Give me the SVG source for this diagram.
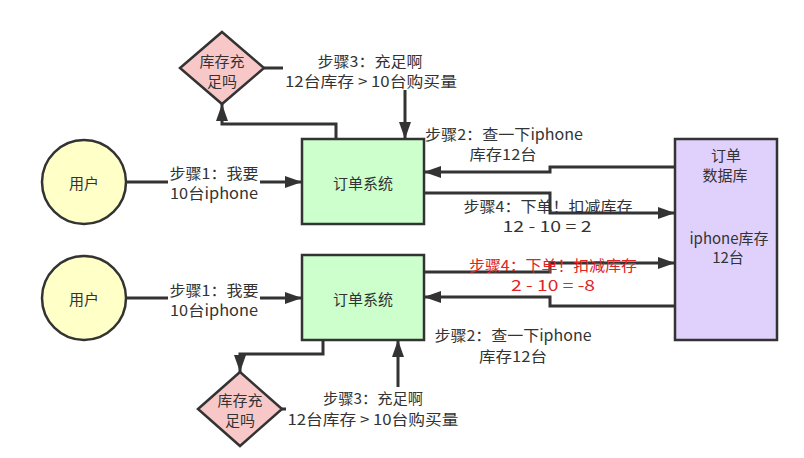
<svg xmlns="http://www.w3.org/2000/svg" width="804" height="458" viewBox="0 0 804 458">
<defs>
<marker id="ah" markerUnits="userSpaceOnUse" markerWidth="18" markerHeight="14" refX="17" refY="7" orient="auto">
<path d="M0,1 L17,7 L0,13 z" fill="#333"/>
</marker>
<style>
.t{font-family:"Noto Sans CJK SC","Liberation Sans",sans-serif;font-size:15px;fill:#333;text-anchor:middle;dominant-baseline:central}
.r{fill:#e02424}
.c{fill:none;stroke:#333;stroke-width:3}
.user{fill:#ffffc8;stroke:#333;stroke-width:2.5}
.sys{fill:#ccffcc;stroke:#333;stroke-width:2.5}
.dia{fill:#f8c8c8;stroke:#333;stroke-width:2.5}
.db{fill:#e0d0fc;stroke:#333;stroke-width:2.5}
</style>
</defs>
<rect width="804" height="458" fill="#fff"/>
<g id="connectors">
<path class="c" d="M127,182 H302" marker-end="url(#ah)"/>
<path class="c" d="M264,68 H405 V139" marker-end="url(#ah)"/>
<path class="c" d="M336,139 V124 H222 V104" stroke="#555" marker-end="url(#ah)"/>
<path class="c" d="M675,167 H550 V172 H424" marker-end="url(#ah)"/>
<path class="c" d="M424,193 H550 V213 H675" marker-end="url(#ah)"/>
<path class="c" d="M127,298 H302" marker-end="url(#ah)"/>
<path class="c" d="M323,340 V354 H240 V372" marker-end="url(#ah)"/>
<path class="c" d="M282,409 H398 V340" marker-end="url(#ah)"/>
<path class="c" d="M424,272 H550 V263 H675" marker-end="url(#ah)"/>
<path class="c" d="M675,306 H550 V297 H424" marker-end="url(#ah)"/>
<rect x="168" y="162" width="92" height="40" fill="#fff"/>
<rect x="283" y="49" width="176" height="41" fill="#fff"/>
<rect x="168" y="278" width="92" height="41" fill="#fff"/>
<rect x="286" y="387" width="176" height="41" fill="#fff"/>
<text class="t" x="214" y="172" textLength="89" lengthAdjust="spacingAndGlyphs">步骤1：我要</text>
<text class="t" x="214" y="192" textLength="88" lengthAdjust="spacingAndGlyphs">10台iphone</text>
<text class="t" x="370" y="60" textLength="105" lengthAdjust="spacingAndGlyphs">步骤3：充足啊</text>
<text class="t" x="371" y="80" textLength="172" lengthAdjust="spacingAndGlyphs">12台库存 &gt; 10台购买量</text>
<text class="t" x="504" y="133" textLength="158" lengthAdjust="spacingAndGlyphs">步骤2：查一下iphone</text>
<text class="t" x="503" y="153" textLength="67" lengthAdjust="spacingAndGlyphs">库存12台</text>
<text class="t" x="548" y="205" textLength="169" lengthAdjust="spacingAndGlyphs">步骤4：下单！扣减库存</text>
<text class="t" x="547" y="225" textLength="89" lengthAdjust="spacingAndGlyphs">12 - 10 = 2</text>
<text class="t" x="214" y="289" textLength="89" lengthAdjust="spacingAndGlyphs">步骤1：我要</text>
<text class="t" x="214" y="309" textLength="88" lengthAdjust="spacingAndGlyphs">10台iphone</text>
<text class="t r" x="553" y="264" textLength="168" lengthAdjust="spacingAndGlyphs">步骤4：下单！扣减库存</text>
<text class="t r" x="553" y="284" textLength="84" lengthAdjust="spacingAndGlyphs">2 - 10 = -8</text>
<text class="t" x="513" y="334" textLength="157" lengthAdjust="spacingAndGlyphs">步骤2：查一下iphone</text>
<text class="t" x="513" y="355" textLength="68" lengthAdjust="spacingAndGlyphs">库存12台</text>
<text class="t" x="373" y="397" textLength="100" lengthAdjust="spacingAndGlyphs">步骤3：充足啊</text>
<text class="t" x="373" y="418" textLength="171" lengthAdjust="spacingAndGlyphs">12台库存 &gt; 10台购买量</text>
</g>
<g id="user1">
<circle class="user" cx="84" cy="182" r="42"/>
<text class="t" x="84" y="182">用户</text>
</g>
<g id="sys1">
<rect class="sys" x="302" y="139" width="122" height="85"/>
<text class="t" x="363" y="182">订单系统</text>
</g>
<g id="check1">
<path class="dia" d="M222,32 L264,68 L222,104 L180,68 z"/>
<text class="t" x="222" y="60">库存充</text>
<text class="t" x="222" y="80">足吗</text>
</g>
<g id="db">
<rect class="db" x="675" y="139" width="102" height="201"/>
<text class="t" x="726" y="154">订单</text>
<text class="t" x="725" y="174">数据库</text>
<text class="t" x="729" y="237">iphone库存</text>
<text class="t" x="728" y="256">12台</text>
</g>
<g id="user2">
<circle class="user" cx="84" cy="298" r="42"/>
<text class="t" x="84" y="298">用户</text>
</g>
<g id="sys2">
<rect class="sys" x="302" y="255" width="122" height="85"/>
<text class="t" x="363" y="298">订单系统</text>
</g>
<g id="check2">
<path class="dia" d="M240,372 L282,409 L240,446 L198,409 z"/>
<text class="t" x="240" y="399">库存充</text>
<text class="t" x="240" y="419">足吗</text>
</g>
</svg>
